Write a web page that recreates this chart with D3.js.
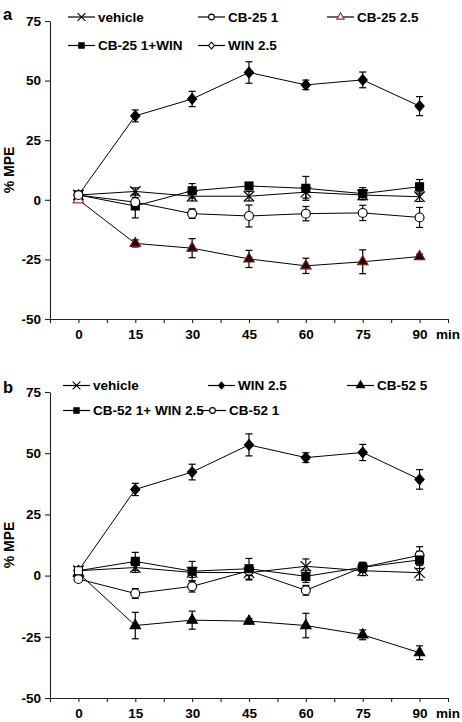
<!DOCTYPE html>
<html>
<head>
<meta charset="utf-8">
<script src="https://cdn.jsdelivr.net/npm/d3@7"></script>
<style>
  html, body { margin: 0; padding: 0; background: #fff; }
  svg text { font-family: "Liberation Sans", Arial, sans-serif; font-weight: bold; fill: #000; }
</style>
</head>
<body>
<svg id="chart" width="462" height="722"></svg>
<script>
// ---------- shared axis data ----------
const times = [0, 15, 30, 45, 60, 75, 90];
const xTickLabels = ["0", "15", "30", "45", "60", "75", "90"];
const yTicks = [75, 50, 25, 0, -25, -50];
const yTickLabels = ["75", "50", "25", "0", "-25", "-50"];
const yTitle = "% MPE";
const xUnit = "min";

// ---------- panel a ----------
const aNames = ["vehicle", "CB-25 1", "CB-25 2.5", "CB-25 1+WIN", "WIN 2.5"];
const aVehicle     = [2, 3.5, 1.5, 1.5, 3.2, 2.0, 1.3];
const aVehicleErr  = [1, 1.5, 2, 2, 2.5, 2, 2];
const aCB25_1      = [2, -1.0, -5.8, -6.8, -5.8, -5.5, -7.4];
const aCB25_1Err   = [1, 2, 2, 4.6, 3, 3.2, 4.2];
const aCB25_25     = [0, -18.3, -20.3, -24.8, -27.7, -26.0, -23.8];
const aCB25_25Err  = [0.5, 1.5, 4, 3.6, 3.2, 5, 1];
const aCB25_1WIN   = [2, -2.6, 3.8, 5.8, 4.8, 2.6, 5.5];
const aCB25_1WINErr= [1, 5, 3, 1.5, 5, 2.5, 3];
const aWIN25       = [2, 35.2, 42.3, 53.4, 48.2, 50.3, 39.3];
const aWIN25Err    = [1, 2.5, 3.2, 4.5, 2, 3.3, 4];

// ---------- panel b ----------
const bNames = ["vehicle", "WIN 2.5", "CB-52 5", "CB-52 1+ WIN 2.5", "CB-52 1"];
const bVehicle     = [2, 3.3, 1.3, 1.2, 3.8, 2.0, 1.2];
const bVehicleErr  = [1, 2, 2, 3, 3, 2, 3];
const bWIN25       = [2, 35.2, 42.3, 53.4, 48.2, 50.3, 39.3];
const bWIN25Err    = [1, 2.5, 3.2, 4.5, 2, 3.3, 4];
const bCB52_5      = [1, -20.4, -18.2, -18.6, -20.4, -24.2, -31.5];
const bCB52_5Err   = [1, 5.4, 3.7, 1, 5, 2, 2.8];
const bCB52_1WIN   = [2, 5.8, 1.8, 2.8, -0.3, 3.4, 6.4];
const bCB52_1WINErr= [1, 3.7, 4, 4.2, 2.5, 2, 3.5];
const bCB52_1      = [-1.4, -7.3, -4.4, 2.0, -6.0, 3.4, 8.3];
const bCB52_1Err   = [1, 2, 2.3, 2, 2, 2, 3.5];

// ---------- symbol shapes ----------
const symX = { draw(c, s) { const r = Math.sqrt(s) / 2; c.moveTo(-r, -r); c.lineTo(r, r); c.moveTo(r, -r); c.lineTo(-r, r); } };
const symDiamond = { draw(c, s) { const r = Math.sqrt(s) / 2; c.moveTo(0, -r * 1.15); c.lineTo(r, 0); c.lineTo(0, r * 1.15); c.lineTo(-r, 0); c.closePath(); } };

const svg = d3.select("#chart");

function drawPanel(p) {
  const x = d3.scaleLinear().domain([-7.5, 97.5]).range([50, 448]);
  const y = d3.scaleLinear().domain([-50, 75]).range([p.bottom, p.top]);
  const g = svg.append("g");

  // panel letter
  g.append("text").attr("x", 3).attr("y", p.letterY).attr("font-size", 16.5).text(p.letter);

  // y axis
  const ya = g.append("g").attr("transform", "translate(50,0)")
    .call(d3.axisLeft(y).tickValues(yTicks).tickSize(5).tickSizeOuter(0)
      .tickFormat((d, i) => yTickLabels[i]));
  ya.selectAll("text").attr("font-size", 13.5).attr("dx", "-1");
  ya.selectAll("path,line").attr("stroke", "#222").attr("stroke-width", 1.1);

  // x axis
  const xa = g.append("g").attr("transform", `translate(0,${p.bottom})`)
    .call(d3.axisBottom(x).tickValues(d3.range(-7.5, 98, 7.5)).tickSize(4).tickSizeOuter(0).tickPadding(6)
      .tickFormat(d => { const i = times.indexOf(d); return i >= 0 ? xTickLabels[i] : ""; }));
  xa.selectAll("text").attr("font-size", 13.5);
  xa.selectAll("path,line").attr("stroke", "#222").attr("stroke-width", 1.1);
  g.append("text").attr("x", 436).attr("y", p.bottom + 19.5).attr("font-size", 13.5).text(xUnit);

  // y title
  g.append("text").attr("transform", `translate(14,${(p.top + p.bottom) / 2}) rotate(-90)`)
    .attr("text-anchor", "middle").attr("font-size", 14).text(yTitle);

  // series
  const line = d3.line().x((d, i) => x(times[i])).y(d => y(d));
  p.series.forEach(s => {
    g.append("path").datum(s.values).attr("d", line)
      .attr("fill", "none").attr("stroke", "#000").attr("stroke-width", 1);
  });
  p.series.forEach(s => {
    const eg = g.append("g").attr("stroke", "#000").attr("stroke-width", 1.2);
    s.values.forEach((v, i) => {
      if (i === 0) return;
      const cx = x(times[i]), y1 = y(v - s.errors[i]), y2 = y(v + s.errors[i]);
      eg.append("line").attr("x1", cx).attr("x2", cx).attr("y1", y1).attr("y2", y2);
      eg.append("line").attr("x1", cx - 3.5).attr("x2", cx + 3.5).attr("y1", y1).attr("y2", y1);
      eg.append("line").attr("x1", cx - 3.5).attr("x2", cx + 3.5).attr("y1", y2).attr("y2", y2);
    });
  });
  p.drawOrder.forEach(k => {
    const s = p.series[k];
    const sym = d3.symbol().type(s.type).size(s.size);
    s.values.forEach((v, i) => {
      const open = s.open || (i === 0 && s.zeroOpen);
      g.append("path").attr("d", sym())
        .attr("transform", `translate(${x(times[i])},${y(v)})`)
        .attr("fill", s.stroked ? "none" : (open ? "#fff" : s.fill))
        .attr("stroke", (i === 0 && s.zeroStroke) ? s.zeroStroke : s.stroke)
        .attr("stroke-width", s.stroked ? 1.2 : 1.1);
    });
  });

  // legend
  p.legend.forEach(L => {
    const s = p.series[L.k];
    const ly = L.y - 4.5;
    g.append("line").attr("x1", L.x0).attr("x2", L.x0 + 27).attr("y1", ly).attr("y2", ly)
      .attr("stroke", "#000").attr("stroke-width", 1.2);
    const sym = d3.symbol().type(s.type).size(s.legSize);
    g.append("path").attr("d", sym()).attr("transform", `translate(${L.x0 + 13.5},${ly})`)
      .attr("fill", s.stroked ? "none" : (L.legOpen ? "#fff" : s.fill))
      .attr("stroke", L.legStroke || s.stroke).attr("stroke-width", 1.1);
    g.append("text").attr("x", L.x0 + 30).attr("y", L.y).attr("font-size", 13.5).text(s.name);
  });
}

const panelA = {
  letter: "a", letterY: 20, top: 21, bottom: 319,
  series: [
    { name: aNames[0], values: aVehicle, errors: aVehicleErr, type: symX, size: 110, legSize: 60, stroke: "#000", stroked: true },
    { name: aNames[1], values: aCB25_1, errors: aCB25_1Err, type: d3.symbolCircle, size: 62, legSize: 26, fill: "#fff", stroke: "#000" },
    { name: aNames[2], values: aCB25_25, errors: aCB25_25Err, type: d3.symbolTriangle, size: 48, legSize: 24, fill: "#1a0000", stroke: "#8a1c1c", zeroOpen: true, zeroStroke: "#b03030" },
    { name: aNames[3], values: aCB25_1WIN, errors: aCB25_1WINErr, type: d3.symbolSquare, size: 64, legSize: 28, fill: "#000", stroke: "#000" },
    { name: aNames[4], values: aWIN25, errors: aWIN25Err, type: symDiamond, size: 85, legSize: 36, fill: "#000", stroke: "#000" }
  ],
  drawOrder: [4, 3, 2, 0, 1],
  legend: [
    { k: 0, x0: 68, y: 21.5 }, { k: 1, x0: 198, y: 21.5 },
    { k: 2, x0: 327, y: 21.5, legOpen: true, legStroke: "#a52a2a" },
    { k: 3, x0: 68, y: 50 }, { k: 4, x0: 198, y: 50, legOpen: true }
  ]
};

const panelB = {
  letter: "b", letterY: 393, top: 392, bottom: 698,
  series: [
    { name: bNames[0], values: bVehicle, errors: bVehicleErr, type: symX, size: 110, legSize: 60, stroke: "#000", stroked: true },
    { name: bNames[1], values: bWIN25, errors: bWIN25Err, type: symDiamond, size: 85, legSize: 36, fill: "#000", stroke: "#000" },
    { name: bNames[2], values: bCB52_5, errors: bCB52_5Err, type: d3.symbolTriangle, size: 48, legSize: 28, fill: "#000", stroke: "#000" },
    { name: bNames[3], values: bCB52_1WIN, errors: bCB52_1WINErr, type: d3.symbolSquare, size: 64, legSize: 28, fill: "#000", stroke: "#000", zeroOpen: true },
    { name: bNames[4], values: bCB52_1, errors: bCB52_1Err, type: d3.symbolCircle, size: 62, legSize: 26, fill: "#fff", stroke: "#000" }
  ],
  drawOrder: [1, 2, 0, 4, 3],
  legend: [
    { k: 0, x0: 63, y: 390 }, { k: 1, x0: 208, y: 390 }, { k: 2, x0: 347, y: 390 },
    { k: 3, x0: 63, y: 415 }, { k: 4, x0: 199, y: 415 }
  ]
};

drawPanel(panelA);
drawPanel(panelB);
</script>
</body>
</html>
